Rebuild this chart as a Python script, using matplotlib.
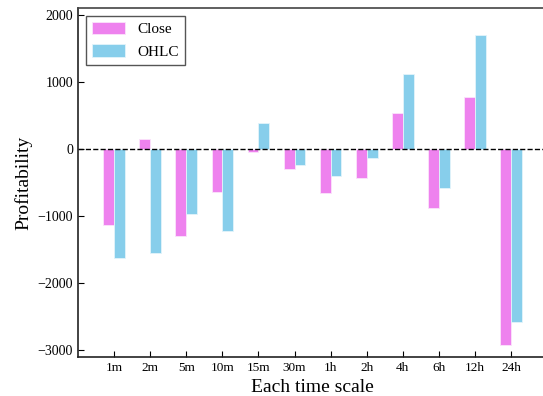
import numpy as np
import matplotlib
matplotlib.use('Agg')
import matplotlib.pyplot as plt

plt.rcParams['font.family'] = ['Liberation Serif', 'DejaVu Serif']

scales = ['1m', '2m', '5m', '10m', '15m', '30m', '1h', '2h', '4h', '6h', '12h', '24h']
close = [-1140, 145, -1295, -637, -40, -294, -652, -437, 533, -885, 771, -2920]
ohlc = [-1620, -1550, -970, -1225, 393, -239, -407, -134, 1115, -577, 1701, -2582]

x = np.arange(len(scales))
w = 0.3

fig = plt.figure(figsize=(5.43, 3.96), dpi=100)
ax = fig.add_axes([0.1436, 0.0985, 0.862, 0.8815])

ax.bar(x - w / 2, close, w, color='violet', edgecolor='#fbe3fb', linewidth=0.6, label='Close')
ax.bar(x + w / 2, ohlc, w, color='skyblue', edgecolor='#e3f4fb', linewidth=0.6, label='OHLC')
ax.axhline(0, color='black', linestyle='--', linewidth=1)

ax.set_xticks(x)
ax.set_xticklabels(scales, fontsize=9.5)
ax.set_yticks([-3000, -2000, -1000, 0, 1000, 2000])
ax.tick_params(axis='y', labelsize=10)
ax.tick_params(direction='in', length=4)
ax.set_xlim(-1, 11.97)
ax.set_ylim(-3100, 2100)

ax.set_xlabel('Each time scale', fontsize=14)
ax.set_ylabel('Profitability', fontsize=14)

for s in ax.spines.values():
    s.set_linewidth(1.2)
    s.set_color('#444444')
ax.spines['left'].set_color('#222222')
ax.spines['bottom'].set_color('#222222')

leg = ax.legend(loc='upper left', fontsize=11, fancybox=False, edgecolor='#555555',
                framealpha=1, handlelength=2.2, handleheight=0.9)

fig.savefig('out.png', dpi=100)
